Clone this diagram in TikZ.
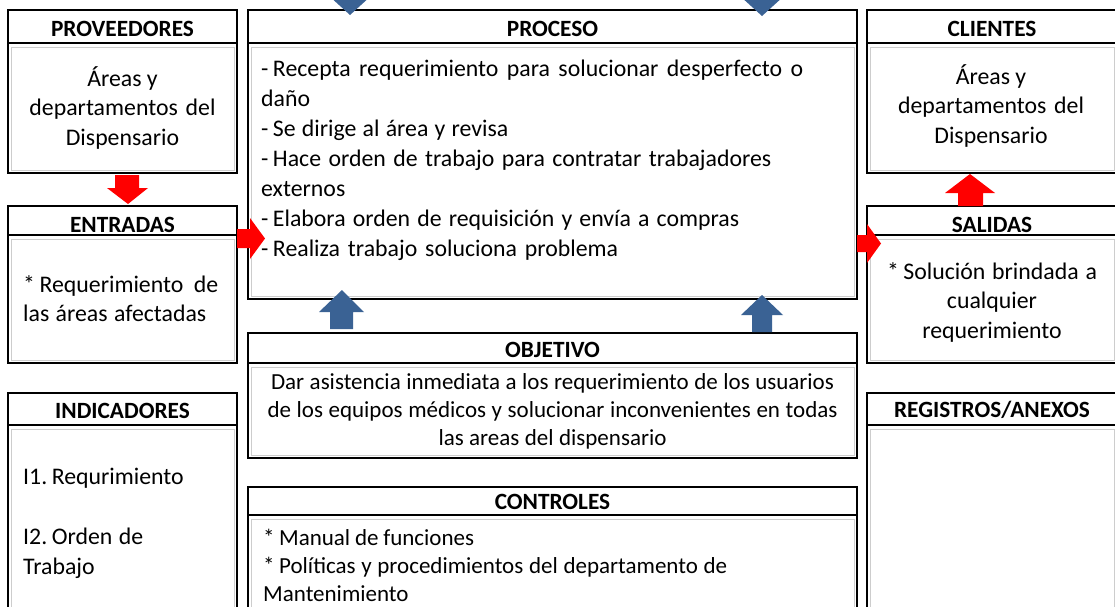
\documentclass[tikz,border=0pt]{standalone}
\usepackage{fontspec}
\setmainfont{Carlito}
\definecolor{arrowblue}{RGB}{58,98,148}
\definecolor{innergray}{RGB}{205,205,205}
\newcommand\hdrfont{\fontsize{23.3}{28}\selectfont\bfseries}
\newcommand\bodyfont{\fontsize{23.8}{30}\selectfont}
\newcommand\bodyfontB{\fontsize{23.8}{29.5}\selectfont}
\newcommand\objfont{\fontsize{23}{28}\selectfont}
\newcommand\SB[2]{\makebox[#1pt][s]{#2}}
\newcommand\gap{\hspace{4.5pt}}
\newcommand\ipobox[8]{%
  \node[outerbox, minimum width={#4pt-#2pt}, minimum height={#5pt-#3pt}] (#1) at (#2,#3) {};
  \draw[hdrline] (#2,#6) -- (#4,#6);
  \node[innerbox, minimum width={#4pt-#2pt-6pt}, minimum height={#5pt-#6pt-7pt}] (#1-in) at (#2+3,#6+4) {};
  \node[hdr] (#1-t) at ({(#2+#4)/2},#7) {#8};
}
\begin{document}
\begin{tikzpicture}[x=1pt,y=-1pt,
  outerbox/.style={draw=black, line width=1.8pt, inner sep=0pt, outer sep=0pt, anchor=north west},
  hdrline/.style={draw=black, line width=1.8pt},
  innerbox/.style={draw=innergray, line width=1.1pt, inner sep=0pt, anchor=north west},
  hdr/.style={font=\hdrfont, anchor=base, inner sep=0pt},
  txtL/.style={anchor=base west, inner sep=0pt},
  txtC/.style={anchor=base, inner sep=0pt},
  redarr/.style={fill=red, draw=none},
  bluearr/.style={fill=arrowblue, draw=none}]
\useasboundingbox (0,0) rectangle (1115,606);
\clip (0,0) rectangle (1115,606);
\fill[white] (0,0) rectangle (1115,606);

\ipobox{prov}{8}{10}{237}{173}{43}{36.4}{PROVEEDORES}
\ipobox{entr}{8}{206}{237}{363}{235}{232}{ENTRADAS}
\ipobox{ind}{8}{393}{237}{640}{425}{418}{INDICADORES}
\ipobox{proc}{248}{10}{857}{299}{43}{36}{PROCESO}
\ipobox{obj}{248}{333}{857}{458}{363}{357}{OBJETIVO}
\ipobox{ctrl}{248}{487}{857}{640}{515}{509}{CONTROLES}
\ipobox{cli}{867}{10}{1117}{173}{43}{36.4}{CLIENTES}
\ipobox{sal}{867}{206}{1117}{363}{235}{232}{SALIDAS}
\ipobox{reg}{867}{393}{1117}{640}{425}{417.5}{REGISTROS/ANEXOS}

% body texts
\node[txtC] (prov-txt) at (122.5,86) {\parbox[t]{220pt}{\centering\bodyfontB
  Áreas y\\ \SB{186}{departamentos del}\\ Dispensario}};
\node[txtC] (cli-txt) at (991,84) {\parbox[t]{240pt}{\centering\bodyfontB
  Áreas y\\ \SB{186}{departamentos del}\\ Dispensario}};
\node[txtL] (entr-txt) at (23,292) {\parbox[t]{210pt}{\raggedright\fontsize{23.8}{29}\selectfont
  \SB{195}{*\gap Requerimiento de}\\ \SB{183}{las áreas afectadas}}};
\node[txtC] (sal-txt) at (992,279) {\parbox[t]{240pt}{\centering\bodyfontB
  \SB{210}{*\gap Solución brindada a}\\ cualquier\\ requerimiento}};
\node[txtL] (ind-txt) at (23,484) {\parbox[t]{210pt}{\raggedright\bodyfont
  \SB{160}{I1.\gap Requrimiento}\\[30pt] \SB{120}{I2.\gap Orden de}\\ Trabajo}};
\node[txtL] (proc-txt) at (261,76) {\parbox[t]{590pt}{\raggedright\bodyfont
  \SB{542}{-\gap Recepta requerimiento para solucionar desperfecto o}\\
  daño\\
  \SB{247}{-\gap Se dirige al área y revisa}\\
  \SB{510}{-\gap Hace orden de trabajo para contratar trabajadores}\\
  externos\\
  \SB{478}{-\gap Elabora orden de requisición y envía a compras}\\
  \SB{357}{-\gap Realiza trabajo soluciona problema}}};
\node[txtC] (obj-txt) at (552.5,389) {\parbox[t]{600pt}{\centering\objfont
  \SB{563}{Dar asistencia inmediata a los requerimiento de los usuarios}\\
  \SB{570}{de los equipos médicos y solucionar inconvenientes en todas}\\
  \SB{228}{las areas del dispensario}}};
\node[txtL] (ctrl-txt) at (263,545) {\parbox[t]{590pt}{\raggedright\objfont
  \SB{211}{*\gap Manual de funciones}\\
  \SB{464}{*\gap Políticas y procedimientos del departamento de}\\
  Mantenimiento}};

% red arrows
\fill[redarr] (115,175) -- (139,175) -- (139,188) -- (148,188) -- (128,204) -- (107,188) -- (115,188) -- cycle;
\fill[redarr] (237,229) -- (250,229) -- (250,218) -- (265,238.5) -- (250,259) -- (250,248) -- (237,248) -- cycle;
\fill[redarr] (857,235) -- (867,235) -- (867,224) -- (881,243.5) -- (867,263) -- (867,252) -- (857,252) -- cycle;
\fill[redarr] (958,206) -- (958,193) -- (945,193) -- (970,174) -- (995,193) -- (983,193) -- (983,206) -- cycle;
% blue arrows
\fill[bluearr] (330,329) -- (330,312) -- (319,312) -- (342,290) -- (364,312) -- (353,312) -- (353,329) -- cycle;
\fill[bluearr] (752,332) -- (752,315) -- (741,315) -- (762,295) -- (783,315) -- (772,315) -- (772,332) -- cycle;
\fill[bluearr] (339,-30) -- (361,-30) -- (361,-5) -- (372,-5) -- (350,15) -- (328,-5) -- (339,-5) -- cycle;
\fill[bluearr] (751,-30) -- (773,-30) -- (773,-4) -- (784,-4) -- (762,16) -- (740,-4) -- (751,-4) -- cycle;
\end{tikzpicture}
\end{document}
